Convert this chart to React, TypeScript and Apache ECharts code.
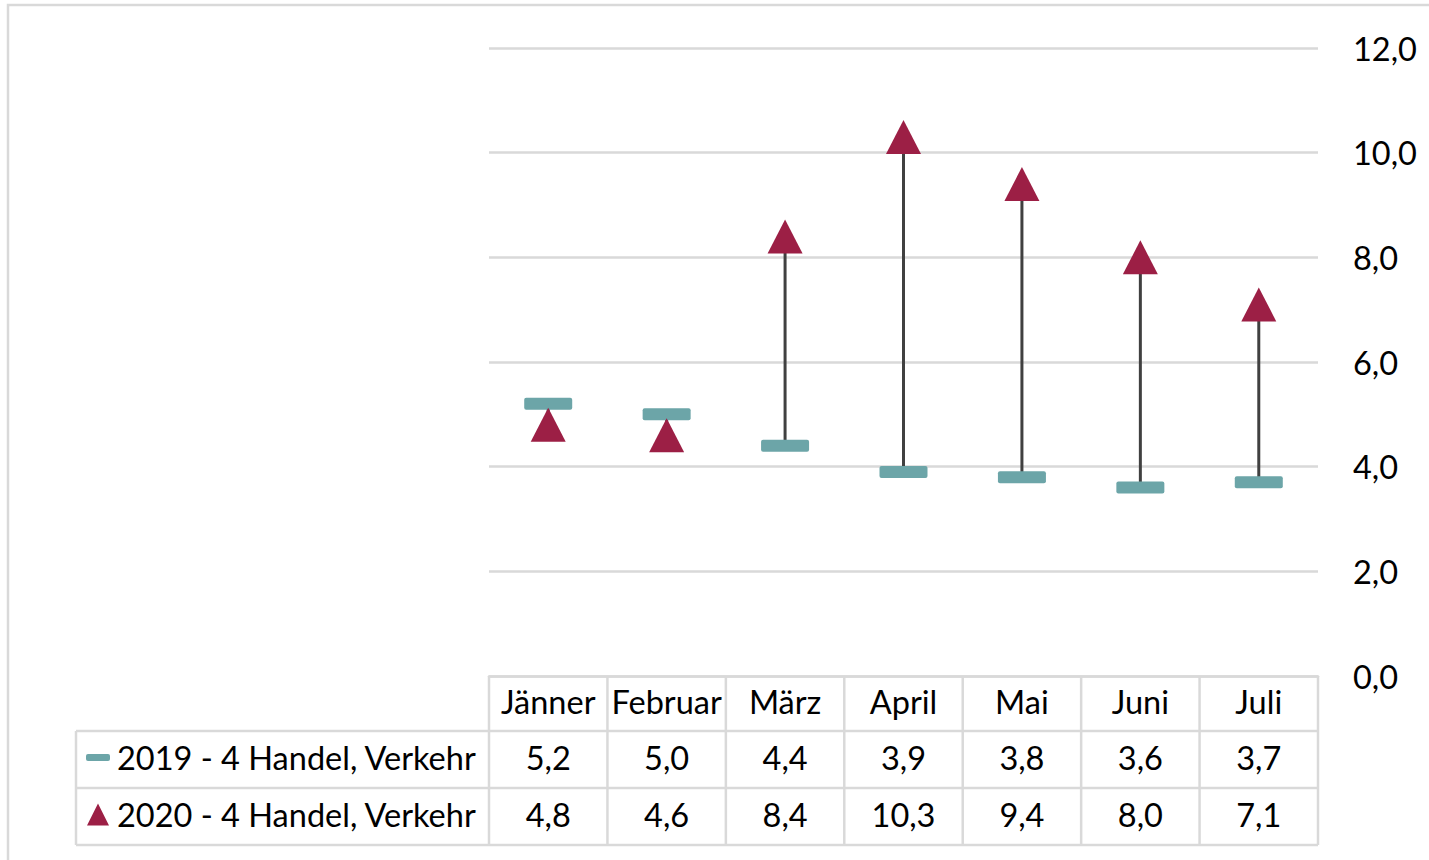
import React, { useEffect, useRef } from "react";
import * as echarts from "echarts";

const categories = ["Jänner", "Februar", "März", "April", "Mai", "Juni", "Juli"];
const values2019 = [5.2, 5.0, 4.4, 3.9, 3.8, 3.6, 3.7];
const values2020 = [4.8, 4.6, 8.4, 10.3, 9.4, 8.0, 7.1];
const seriesNames = ["2019 - 4 Handel, Verkehr", "2020 - 4 Handel, Verkehr"];
const yMin = 0;
const yMax = 12;
const yStep = 2;

const fmt = (v: number) => v.toFixed(1).replace(".", ",");

const TEAL = "#6CA5A8";
const CRIMSON = "#9C1F45";
const GRID = "#d9d9d9";
const FONT = "Lato";
const FS = 32.5;

export default function App() {
  const ref = useRef<HTMLDivElement>(null);
  useEffect(() => {
    if (!ref.current) return;
    const chart = echarts.init(ref.current, null, { renderer: "svg" });
    const W = 1429;
    const gl = 489, gr = 1318, gt = 48, gb = 676;
    const n = categories.length;
    const cw = (gr - gl) / n;
    const rowY = [676, 731, 788, 845];
    const tableLeft = 76;

    const graphics: any[] = [];
    graphics.push({ type: "rect", shape: { x: 8, y: 5, width: 1450, height: 900 }, style: { fill: "none", stroke: GRID, lineWidth: 2.5 }, silent: true });
    for (let r = 1; r < rowY.length; r++) {
      graphics.push({ type: "line", shape: { x1: tableLeft, y1: rowY[r], x2: gr, y2: rowY[r] }, style: { stroke: GRID, lineWidth: 2.5 }, silent: true });
    }
    graphics.push({ type: "line", shape: { x1: tableLeft, y1: rowY[1], x2: tableLeft, y2: rowY[3] }, style: { stroke: GRID, lineWidth: 2.5 }, silent: true });
    for (let i = 0; i <= n; i++) {
      const x = gl + i * cw;
      graphics.push({ type: "line", shape: { x1: x, y1: rowY[0], x2: x, y2: rowY[3] }, style: { stroke: GRID, lineWidth: 2.5 }, silent: true });
    }
    const r0 = (rowY[0] + rowY[1]) / 2 - 2;
    const r1 = (rowY[1] + rowY[2]) / 2 - 2;
    const r2 = (rowY[2] + rowY[3]) / 2 - 2;
    graphics.push({ type: "rect", shape: { x: 86, y: r1 - 3.5, width: 24, height: 7, r: 2 }, style: { fill: TEAL }, silent: true });
    graphics.push({ type: "polygon", shape: { points: [[98, r2 - 11], [87, r2 + 11], [109, r2 + 11]] }, style: { fill: CRIMSON }, silent: true });
    graphics.push({ type: "text", x: 117, y: r1, style: { text: seriesNames[0], font: `${FS}px ${FONT}`, fill: "#000", textVerticalAlign: "middle", textAlign: "left" }, silent: true });
    graphics.push({ type: "text", x: 117, y: r2, style: { text: seriesNames[1], font: `${FS}px ${FONT}`, fill: "#000", textVerticalAlign: "middle", textAlign: "left" }, silent: true });

    const labelBase = { fontSize: FS, fontFamily: FONT, color: "#000", interval: 0, verticalAlign: "middle" as const };

    chart.setOption({
      animation: false,
      textStyle: { fontFamily: FONT },
      grid: { left: gl, right: W - gr, top: gt, bottom: 860 - gb, containLabel: false },
      xAxis: [
        {
          type: "category",
          data: categories,
          boundaryGap: true,
          axisLine: { show: true, lineStyle: { color: GRID, width: 2.5 } },
          axisTick: { show: false },
          axisLabel: { ...labelBase, margin: r0 - gb },
        },
        {
          type: "category",
          data: values2019.map(fmt),
          position: "bottom",
          axisLine: { show: false },
          axisTick: { show: false },
          axisLabel: { ...labelBase, margin: r1 - gb },
        },
        {
          type: "category",
          data: values2020.map(fmt),
          position: "bottom",
          axisLine: { show: false },
          axisTick: { show: false },
          axisLabel: { ...labelBase, margin: r2 - gb },
        },
      ],
      yAxis: {
        type: "value",
        position: "right",
        min: yMin,
        max: yMax,
        interval: yStep,
        axisLine: { show: false },
        axisTick: { show: false },
        splitLine: { lineStyle: { color: GRID, width: 2.5 } },
        axisLabel: { fontSize: FS, fontFamily: FONT, color: "#000", margin: 35, verticalAlign: "middle", formatter: (v: number) => fmt(v) },
      },
      series: [
        {
          type: "custom",
          xAxisIndex: 0,
          z: 1,
          data: categories.map((_, i) => [i, values2019[i], values2020[i]]),
          encode: { x: 0, y: [1, 2] },
          renderItem: (params: any, api: any) => {
            const x = api.value(0);
            const p1 = api.coord([x, api.value(1)]);
            const p2 = api.coord([x, api.value(2)]);
            return {
              type: "line",
              shape: { x1: p1[0], y1: p1[1], x2: p2[0], y2: p2[1] },
              style: { stroke: "#404040", lineWidth: 3 },
            };
          },
          silent: true,
        },
        {
          name: seriesNames[0],
          type: "line",
          xAxisIndex: 0,
          z: 3,
          data: values2019,
          lineStyle: { opacity: 0 },
          symbol: "path://M2,0H46Q48,0 48,2V10Q48,12 46,12H2Q0,12 0,10V2Q0,0 2,0Z",
          symbolKeepAspect: false,
          symbolSize: [48, 12],
          itemStyle: { color: TEAL },
          silent: true,
        },
        {
          name: seriesNames[1],
          type: "line",
          xAxisIndex: 0,
          z: 4,
          data: values2020,
          lineStyle: { opacity: 0 },
          symbol: "triangle",
          symbolSize: [35, 34],
          itemStyle: { color: CRIMSON },
          silent: true,
        },
      ],
      graphic: graphics,
    });
    return () => chart.dispose();
  }, []);
  return <div ref={ref} style={{ position: "absolute", left: 0, top: 0, width: 1429, height: 860 }} />;
}
